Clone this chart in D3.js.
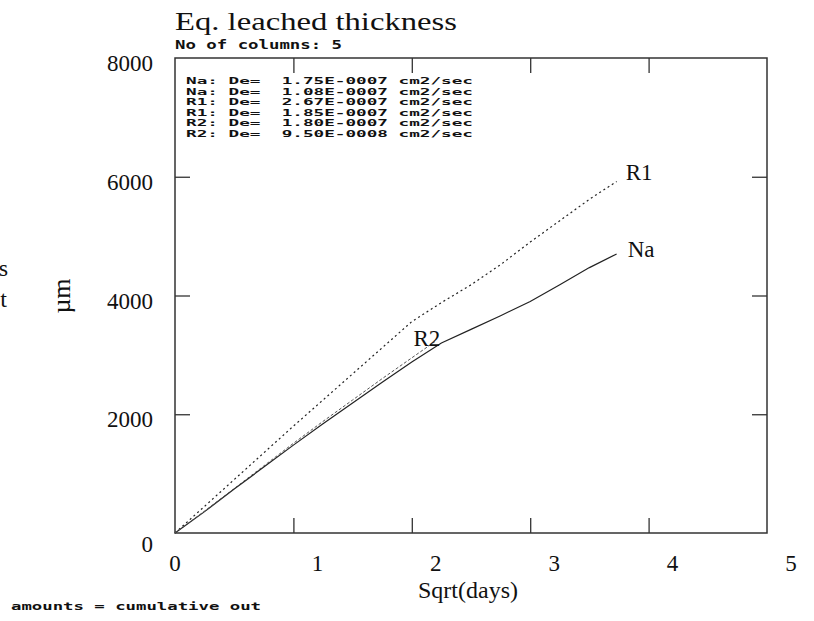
<!DOCTYPE html>
<html>
<head>
<meta charset="utf-8">
<script src="https://cdn.jsdelivr.net/npm/d3@7"></script>
<style>
  html, body { margin: 0; padding: 0; background: #fff; }
  svg { display: block; }
  .serif { font-family: "Liberation Serif", "DejaVu Serif", serif; fill: #111; }
  .mono { font-family: "DejaVu Sans Mono", monospace; font-weight: bold; fill: #111; }
</style>
</head>
<body>
<svg id="chart" width="814" height="621"></svg>
<script>
// Equivalent leached thickness (µm) against square root of time (days)
const naX = [0, 0.25, 0.5, 0.75, 1.0, 1.25, 1.5, 1.75, 2.0, 2.25, 2.5, 2.75, 3.0, 3.25, 3.5, 3.73];
const naY = [0, 360, 740, 1110, 1480, 1840, 2190, 2540, 2880, 3200, 3430, 3660, 3900, 4180, 4470, 4700];

const r1X = [0, 0.25, 0.5, 0.75, 1.0, 1.25, 1.5, 1.75, 2.0, 2.25, 2.5, 2.75, 3.0, 3.25, 3.5, 3.73];
const r1Y = [0, 450, 900, 1350, 1800, 2240, 2680, 3120, 3560, 3880, 4180, 4520, 4900, 5260, 5620, 5920];

const r2X = [0, 0.25, 0.5, 0.75, 1.0, 1.25, 1.5, 1.75, 2.0, 2.2];
const r2Y = [0, 370, 750, 1130, 1510, 1880, 2240, 2600, 2950, 3230];

const xTicks = [0, 1, 2, 3, 4, 5];
const yTicks = [0, 2000, 4000, 6000, 8000];

const fitLines = [
  "Na: De=  1.75E-0007 cm2/sec",
  "Na: De=  1.08E-0007 cm2/sec",
  "R1: De=  2.67E-0007 cm2/sec",
  "R1: De=  1.85E-0007 cm2/sec",
  "R2: De=  1.80E-0007 cm2/sec",
  "R2: De=  9.50E-0008 cm2/sec"
];

const svg = d3.select("#chart");
const frame = { left: 175, right: 767, top: 58, bottom: 533 };

const x = d3.scaleLinear().domain([0, 5]).range([frame.left, frame.right]);
const y = d3.scaleLinear().domain([0, 8000]).range([frame.bottom, frame.top]);

const ink = "#222";

// Plot frame
svg.append("rect")
  .attr("x", frame.left).attr("y", frame.top)
  .attr("width", frame.right - frame.left).attr("height", frame.bottom - frame.top)
  .attr("fill", "none").attr("stroke", "#333").attr("stroke-width", 1.5);

// Inward ticks on all four sides, no labels from the axis itself
const tickLen = 15;
const innerX = xTicks.filter(d => d > 0 && d < 5);
const innerY = yTicks.filter(d => d > 0 && d < 8000);

const axB = d3.axisTop(x).tickValues(innerX).tickSize(tickLen).tickFormat("");
const axT = d3.axisBottom(x).tickValues(innerX).tickSize(tickLen).tickFormat("");
const axL = d3.axisRight(y).tickValues(innerY).tickSize(tickLen).tickFormat("");
const axR = d3.axisLeft(y).tickValues(innerY).tickSize(tickLen).tickFormat("");

[[axB, `translate(0,${frame.bottom})`], [axT, `translate(0,${frame.top})`],
 [axL, `translate(${frame.left},0)`], [axR, `translate(${frame.right},0)`]]
  .forEach(([ax, tr]) => {
    const g = svg.append("g").attr("transform", tr).call(ax);
    g.select(".domain").remove();
    g.selectAll("line").attr("stroke", "#333").attr("stroke-width", 1.3);
  });

// Tick labels
svg.append("g").selectAll("text").data(xTicks).join("text")
  .attr("class", "serif")
  .attr("x", d => x(d) + (d === 0 ? 0 : 24))
  .attr("y", 571)
  .attr("text-anchor", "middle")
  .attr("font-size", 23)
  .text(d => d);

svg.append("g").selectAll("text").data(yTicks).join("text")
  .attr("class", "serif")
  .attr("x", 153)
  .attr("y", d => y(d) + (d === 0 ? 19 : 13))
  .attr("text-anchor", "end")
  .attr("font-size", 23)
  .text(d => d);

// Titles
svg.append("text").attr("class", "serif")
  .attr("x", 175).attr("y", 30).attr("font-size", 25)
  .attr("textLength", 282).attr("lengthAdjust", "spacingAndGlyphs")
  .text("Eq. leached thickness");

svg.append("text").attr("class", "mono")
  .attr("x", 175).attr("y", 49).attr("font-size", 12)
  .attr("textLength", 167).attr("lengthAdjust", "spacingAndGlyphs")
  .text("No of columns: 5");

svg.append("text").attr("class", "serif")
  .attr("x", 468).attr("y", 598).attr("text-anchor", "middle").attr("font-size", 24)
  .text("Sqrt(days)");

svg.append("text").attr("class", "serif")
  .attr("transform", "translate(70,296) rotate(-90)")
  .attr("text-anchor", "middle").attr("font-size", 26)
  .text("µm");

// Clipped label fragments at the left edge
svg.append("text").attr("class", "serif")
  .attr("x", 8).attr("y", 276).attr("text-anchor", "end").attr("font-size", 24).text("s");
svg.append("text").attr("class", "serif")
  .attr("x", 7).attr("y", 307).attr("text-anchor", "end").attr("font-size", 24).text("t");

svg.append("text").attr("class", "mono")
  .attr("x", 11).attr("y", 610).attr("font-size", 11)
  .attr("textLength", 250).attr("lengthAdjust", "spacingAndGlyphs")
  .text("amounts = cumulative out");

// Fitted diffusion coefficients, one block of lines
const fit = svg.append("text").attr("class", "mono")
  .attr("font-size", 9)
  .attr("xml:space", "preserve")
  .style("white-space", "pre");
fit.selectAll("tspan").data(fitLines).join("tspan")
  .attr("x", 186)
  .attr("y", (d, i) => 84 + i * 10.6)
  .attr("textLength", 287).attr("lengthAdjust", "spacingAndGlyphs")
  .text(d => d);

// Curves
const line = d3.line().x(d => x(d[0])).y(d => y(d[1]));
const series = [
  { name: "Na", xs: naX, ys: naY, dash: null, width: 1.2, dx: 11, dy: 3 },
  { name: "R1", xs: r1X, ys: r1Y, dash: "2,3", width: 1.2, dx: 9, dy: -2 },
  { name: "R2", xs: r2X, ys: r2Y, dash: "3,2", width: 1, dx: -22, dy: 5 }
];

series.forEach(s => {
  const pts = s.xs.map((v, i) => [v, s.ys[i]]);
  svg.append("path").datum(pts)
    .attr("d", line)
    .attr("fill", "none")
    .attr("stroke", s.name === "R2" ? "#555" : ink)
    .attr("stroke-width", s.width)
    .attr("stroke-dasharray", s.dash);
  const last = pts[pts.length - 1];
  svg.append("text").attr("class", "serif")
    .attr("x", x(last[0]) + s.dx)
    .attr("y", y(last[1]) + s.dy)
    .attr("font-size", 23)
    .text(s.name);
});
</script>
</body>
</html>
